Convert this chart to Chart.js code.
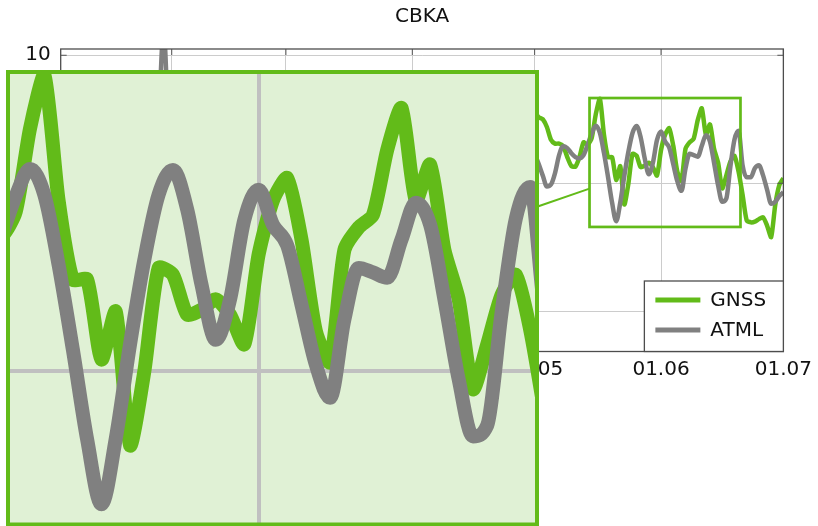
<!DOCTYPE html>
<html>
<head>
<meta charset="utf-8">
<script src="https://cdn.jsdelivr.net/npm/chart.js@4/dist/chart.umd.min.js"></script>
<style>
  html, body { margin: 0; padding: 0; background: #fff; overflow: hidden; }
  #wrap { position: relative; width: 818px; height: 526px; }
  #main { position: absolute; left: 0; top: 0; }
  #inset { position: absolute; }
</style>
</head>
<body>
<div id="wrap">
  <canvas id="main" width="818" height="526"></canvas>
  <canvas id="inset"></canvas>
</div>
<script>
// Station CBKA: daily vertical displacement (mm), GNSS vs. atmospheric loading model
// Day numbers are day-of-year, 0 = 1 January.
const firstDay = 4;

const gnssValues = [
  1.2, 2.5, 3.1, 1.8, -0.6, -2.4, -1.1, 0.9, 2.8, 4.0,
  3.2, 1.5, -0.8, -3.1, -4.6, -3.2, -1.0, 1.3, 2.2, 0.7,
  -1.5, -2.9, -1.2, 1.8, 4.6, 6.2, 3.9, 0.8, -2.1, -4.0,
  -5.2, -3.6, -1.4, 0.6, 2.9, 4.1, 2.6, 0.3, -1.9, -3.3,
  -2.0, 0.4, 2.7, 3.5, 1.9, -0.4, -2.6, -4.4, -3.0, -0.9,
  1.6, 3.8, 5.1, 3.7, 1.2, -1.1, -2.5, -1.3, 0.8, 2.4,
  1.1, -1.4, -3.6, -5.0, -3.9, -1.6, 0.9, 3.2, 4.4, 3.0,
  0.5, -1.8, -3.2, -2.0, 0.3, 2.1, 3.6, 2.2, -0.2, -2.3,
  -3.8, -2.4, 0.1, 2.5, 4.2, 5.3, 3.4, 1.0, -1.3, -2.9,
  -1.7, 0.6, 2.0, 1.1, -0.9, -3.0, -4.3, -2.8, -0.5, 1.9,
  3.7, 4.8, 3.1, 0.9, -1.0, 0.7, 2.6, 4.0, 2.8, 1.1,
  2.4, 4.3, 5.6, 4.1, 3.5, 4.9,
  5.5, 5.16, 5.0, 4.4, 3.4, 3.1, 3.1, 2.9, 2.05, 1.35,
  1.3, 2.05, 3.2, 3.0, 3.55, 5.4, 6.6, 3.8, 2.04, 2.04,
  0.26, 1.33, -1.65, 0.0, 2.3, 2.15, 1.26, 1.37, 1.6, 1.26,
  0.6, 2.6, 3.8, 4.3, 2.93, 0.9, 0.2, 2.7, 3.2, 3.48,
  4.93, 5.86, 3.8, 4.6, 2.7, 1.6, -0.4, 0.6, 1.7, 2.15,
  0.93, -0.9, -2.9, -3.05, -3.0, -2.8, -2.65, -3.3, -4.2, -1.7,
  -0.15, 0.4
];

const atmlValues = [
  0.8, 1.9, 2.6, 2.0, 0.4, -1.3, -1.8, -0.6, 1.2, 2.9,
  3.4, 2.3, 0.2, -2.0, -3.6, -3.9, -2.5, -0.4, 1.1, 1.0,
  -0.3, -1.6, -0.8, 1.5, 6.5, 12.0, 6.0, 0.4, -2.3, -3.7,
  -3.0, -1.2, 0.9, 2.4, 3.0, 2.1, 0.5, -1.1, -2.2, -1.8,
  -0.5, 1.3, 2.6, 2.2, 0.6, -1.4, -3.0, -3.8, -2.7, -0.8,
  1.4, 3.0, 3.6, 2.5, 0.7, -0.9, -1.6, -0.8, 0.6, 1.7,
  0.9, -0.9, -2.8, -3.9, -3.2, -1.4, 0.8, 2.6, 3.3, 2.4,
  0.6, -1.0, -1.9, -1.2, 0.4, 1.8, 2.5, 1.6, -0.2, -1.8,
  -2.7, -1.9, -0.2, 1.6, 3.0, 3.7, 2.8, 0.9, -0.9, -1.9,
  -1.3, 0.2, 1.1, 0.6, -0.8, -2.3, -3.1, -2.2, -0.5, 1.3,
  2.6, 3.1, 2.2, 0.8, -0.3, 0.5, 1.9, 2.9, 2.3, 1.2,
  1.6, 2.8, 3.5, 3.0, 2.7, 3.2,
  2.3, 1.5, 0.6, -0.25, -0.1, 0.8, 2.2, 2.9, 2.75, 2.35,
  2.05, 1.95, 2.2, 3.0, 3.9, 4.5, 3.93, 2.37, 0.48, -1.52,
  -2.96, -1.5, 0.6, 2.48, 3.93, 4.48, 3.6, 1.93, 0.7, 1.6,
  3.37, 4.04, 3.26, 2.8, 1.48, 0.15, -0.59, 1.15, 2.3, 2.2,
  2.08, 2.93, 3.75, 3.26, 1.6, -0.18, -1.45, -1.2, 1.3, 3.4,
  4.1, 1.4, 0.47, 0.47, 1.17, 1.4, 0.64, -0.5, -1.6, -1.45,
  -1.0, -0.7
];

// month boundaries (day-of-year) and their tick labels
const monthStartDays = [31, 59, 90, 120, 151, 181];
const monthLabels = ['01.02', '01.03', '01.04', '01.05', '01.06', '01.07'];

// axis ranges and value ticks
const dayRange = [3.77, 181];
const valueRange = [-13.14, 10.49];
const valueTickList = [-10, 0, 10];

// magnified window (days, values)
const zoomDays = [133.46, 170.48];
const zoomValues = [-3.41, 6.66];

const GREEN = '#62bb19';
const GRAY = '#808080';
const FONT = 'DejaVu Sans';

// placement of the magnified panel on the page
const INSET = { left: 8, top: 72, right: 537, bottom: 524.5, pad: 2 };

function points(values) {
  return values.map((v, i) => ({ x: firstDay + i, y: v }));
}

function monthTicks(scale) {
  scale.ticks = monthStartDays
    .filter(d => d >= scale.min && d <= scale.max)
    .map(d => ({ value: d }));
}

function valueTicks(scale) {
  scale.ticks = valueTickList
    .filter(v => v >= scale.min && v <= scale.max)
    .map(v => ({ value: v }));
}

function makeDatasets(width) {
  return [
    { label: 'GNSS', data: points(gnssValues), borderColor: GREEN, backgroundColor: GREEN,
      borderWidth: width, pointRadius: 0, tension: 0.22, borderJoinStyle: 'miter', clip: 0, order: 1 },
    { label: 'ATML', data: points(atmlValues), borderColor: GRAY, backgroundColor: GRAY,
      borderWidth: width, pointRadius: 0, cubicInterpolationMode: 'monotone',
      borderJoinStyle: 'round', clip: 0, order: 0 }
  ];
}

// ---------- magnified panel ----------
const insetCanvas = document.getElementById('inset');
insetCanvas.width = INSET.right - INSET.left + 2 * INSET.pad;
insetCanvas.height = Math.ceil(INSET.bottom - INSET.top + 2 * INSET.pad);
insetCanvas.style.left = (INSET.left - INSET.pad) + 'px';
insetCanvas.style.top = (INSET.top - INSET.pad) + 'px';

const insetDecor = {
  id: 'insetDecor',
  beforeDraw(chart) {
    const { ctx, chartArea: a } = chart;
    ctx.save();
    ctx.fillStyle = '#e0f1d5';
    ctx.fillRect(a.left, a.top, a.right - a.left, a.bottom - a.top);
    ctx.restore();
  },
  afterDraw(chart) {
    const { ctx, chartArea: a } = chart;
    ctx.save();
    ctx.strokeStyle = GREEN;
    ctx.lineWidth = 4;
    ctx.strokeRect(a.left, a.top, a.right - a.left, a.bottom - a.top);
    ctx.restore();
  }
};

const insetChart = new Chart(insetCanvas, {
  type: 'line',
  data: { datasets: makeDatasets(14) },
  options: {
    responsive: false, animation: false, devicePixelRatio: 1,
    events: [],
    layout: { padding: { left: INSET.pad, right: INSET.pad, top: INSET.pad,
      bottom: insetCanvas.height - INSET.pad - (INSET.bottom - INSET.top) } },
    plugins: { legend: { display: false }, tooltip: { enabled: false }, title: { display: false } },
    scales: {
      x: {
        type: 'linear', min: zoomDays[0], max: zoomDays[1],
        afterBuildTicks: monthTicks,
        afterFit: s => { s.height = 0; },
        ticks: { display: false },
        grid: { color: '#c0c0c0', lineWidth: 4, drawTicks: false },
        border: { display: false }
      },
      y: {
        type: 'linear', min: zoomValues[0], max: zoomValues[1],
        afterBuildTicks: valueTicks,
        afterFit: s => { s.width = 0; },
        ticks: { display: false },
        grid: { color: '#c0c0c0', lineWidth: 4, drawTicks: false },
        border: { display: false }
      }
    }
  },
  plugins: [insetDecor]
});

// ---------- main chart ----------
const mainDecor = {
  id: 'mainDecor',
  afterDatasetsDraw(chart) {
    const { ctx, chartArea: a, scales: { x, y } } = chart;
    ctx.save();
    // inward tick marks on all four sides
    ctx.strokeStyle = '#555';
    ctx.lineWidth = 1;
    ctx.beginPath();
    x.ticks.forEach(t => {
      const px = x.getPixelForValue(t.value);
      ctx.moveTo(px, a.top); ctx.lineTo(px, a.top + 6);
      ctx.moveTo(px, a.bottom); ctx.lineTo(px, a.bottom - 6);
    });
    y.ticks.forEach(t => {
      const py = y.getPixelForValue(t.value);
      ctx.moveTo(a.left, py); ctx.lineTo(a.left + 6, py);
      ctx.moveTo(a.right, py); ctx.lineTo(a.right - 6, py);
    });
    ctx.stroke();
    // axis frame
    ctx.strokeStyle = '#4d4d4d';
    ctx.lineWidth = 1.3;
    ctx.strokeRect(a.left, a.top, a.right - a.left, a.bottom - a.top);

    // outline of the magnified window
    const rx0 = x.getPixelForValue(zoomDays[0]);
    const rx1 = x.getPixelForValue(zoomDays[1]);
    const ry0 = y.getPixelForValue(zoomValues[1]);
    const ry1 = y.getPixelForValue(zoomValues[0]);
    ctx.strokeStyle = GREEN;
    ctx.lineWidth = 2.7;
    ctx.strokeRect(rx0, ry0, rx1 - rx0, ry1 - ry0);

    // connector along the line joining both box centres
    const c1 = { x: (INSET.left + INSET.right) / 2, y: (INSET.top + INSET.bottom) / 2 };
    const c2 = { x: (rx0 + rx1) / 2, y: (ry0 + ry1) / 2 };
    const t1 = (INSET.right - c1.x) / (c2.x - c1.x);
    const t2 = (rx0 - c1.x) / (c2.x - c1.x);
    ctx.lineWidth = 2;
    ctx.beginPath();
    ctx.moveTo(c1.x + t1 * (c2.x - c1.x), c1.y + t1 * (c2.y - c1.y));
    ctx.lineTo(c1.x + t2 * (c2.x - c1.x), c1.y + t2 * (c2.y - c1.y));
    ctx.stroke();
    ctx.restore();
  },
  afterDraw(chart) {
    // legend box in the lower right corner of the plot
    const { ctx, chartArea: a } = chart;
    const w = 139, h = 70.5;
    const left = a.right - w, top = a.bottom - h;
    ctx.save();
    ctx.fillStyle = '#fff';
    ctx.fillRect(left, top, w, h);
    ctx.strokeStyle = '#4d4d4d';
    ctx.lineWidth = 1.3;
    ctx.strokeRect(left, top, w, h);
    ctx.font = '20px "' + FONT + '"';
    ctx.textBaseline = 'middle';
    chart.data.datasets.forEach((ds, i) => {
      const yy = top + 19 + i * 30;
      ctx.strokeStyle = ds.borderColor;
      ctx.lineWidth = 5;
      ctx.beginPath();
      ctx.moveTo(left + 11, yy);
      ctx.lineTo(left + 56, yy);
      ctx.stroke();
      ctx.fillStyle = '#111';
      ctx.fillText(ds.label, left + 66, yy + 1);
    });
    ctx.restore();
  }
};

const tickFont = { family: FONT, size: 20 };

const mainChart = new Chart(document.getElementById('main'), {
  type: 'line',
  data: { datasets: makeDatasets(4.5) },
  options: {
    responsive: false, animation: false, devicePixelRatio: 1,
    events: [],
    layout: { padding: { left: 0, right: 33, top: 0, bottom: 0 } },
    plugins: {
      legend: { display: false },
      tooltip: { enabled: false },
      title: {
        display: true, text: 'CBKA', fullSize: false, color: '#111',
        font: { family: FONT, size: 20, weight: 'normal' },
        padding: { top: 5, bottom: 20 }
      }
    },
    scales: {
      x: {
        type: 'linear', min: dayRange[0], max: dayRange[1],
        afterBuildTicks: monthTicks,
        afterFit: s => { s.height = 174.5; },
        ticks: {
          font: tickFont, color: '#111', padding: 6, maxRotation: 0, autoSkip: false,
          callback: v => monthLabels[monthStartDays.indexOf(v)]
        },
        grid: { color: '#cccccc', lineWidth: 1, drawTicks: false },
        border: { display: false }
      },
      y: {
        type: 'linear', min: valueRange[0], max: valueRange[1],
        afterBuildTicks: valueTicks,
        afterFit: s => { s.width = 60.7; },
        ticks: {
          font: tickFont, color: '#111', padding: 10,
          callback: v => (v < 0 ? '\u2212' + Math.abs(v) : String(v))
        },
        grid: { color: '#cccccc', lineWidth: 1, drawTicks: false },
        border: { display: false }
      }
    }
  },
  plugins: [mainDecor]
});
</script>
</body>
</html>
